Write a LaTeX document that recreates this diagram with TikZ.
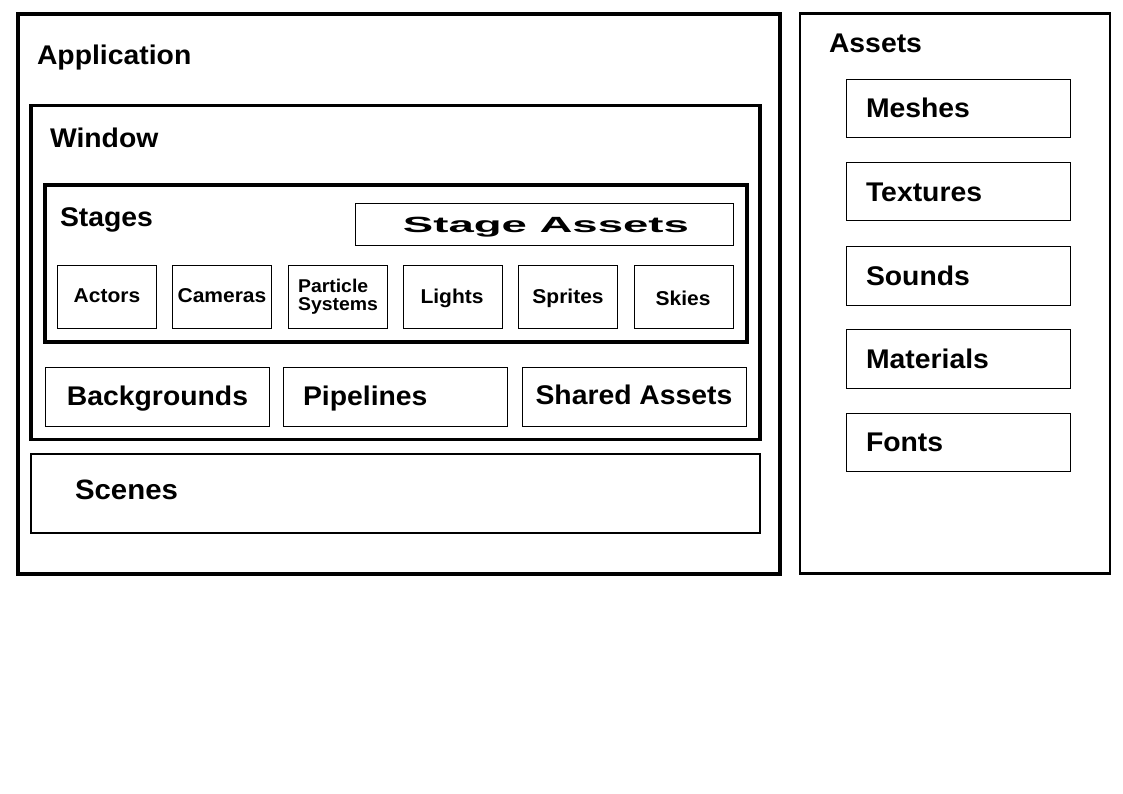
\documentclass[tikz,border=0pt]{standalone}
\usepackage{fontspec}
\setmainfont{Liberation Sans}[FakeStretch=1.05]
\newfontfamily\stagefont{Liberation Sans}[FakeStretch=2.07]
\begin{document}
\begin{tikzpicture}[x=1pt,y=-1pt,
  box/.style={draw=black, line width=1pt, inner sep=0pt, outer sep=0pt, anchor=north west, fill=none},
  lbl/.style={inner sep=0pt, outer sep=0pt, font=\bfseries\fontsize{27}{30}\selectfont},
  small/.style={inner sep=0pt, outer sep=0pt, font=\bfseries\fontsize{20}{22}\selectfont}]
\useasboundingbox[fill=white] (0,0) rectangle (1123,794);
\newcommand{\boxat}[6]{\node[box, #6, minimum width={#4-#2}, minimum height={#5-#3}] (#1) at (#2,#3) {};}
% containers
\boxat{app}{17.5}{14.5}{780}{573.5}{line width=4pt}
\boxat{assets}{800}{13.5}{1110}{573.5}{line width=2.2pt}
\boxat{window}{31}{105.5}{760}{439.5}{line width=3.2pt}
\boxat{stages}{45}{185}{747}{342}{line width=3.2pt}
\boxat{scenes}{31}{454}{760}{533}{line width=2.6pt}
% stage contents
\boxat{stageassets}{355}{204}{733}{245}{}
\boxat{actors}{57}{265}{156}{328}{}
\boxat{cameras}{172}{265}{271}{328}{}
\boxat{particles}{288}{265}{387}{328}{}
\boxat{lights}{403}{265}{502}{328}{}
\boxat{sprites}{518}{265}{617}{328}{}
\boxat{skies}{634}{265}{733}{328}{}
% window contents
\boxat{backgrounds}{45}{367}{269}{426}{}
\boxat{pipelines}{283}{367}{507}{426}{}
\boxat{shared}{522}{367}{746}{426}{}
% assets contents
\boxat{meshes}{846}{80}{1070}{138}{}
\boxat{textures}{846}{163}{1070}{221}{}
\boxat{sounds}{846}{246}{1070}{305}{}
\boxat{materials}{846}{329}{1070}{388}{}
\boxat{fonts}{846}{413}{1070}{471}{}
% labels
\node[lbl, anchor=base west] (tapp) at (37,65) {Application};
\node[lbl, anchor=base west] (twin) at (50,148) {Window};
\node[lbl, anchor=base west] (tstages) at (60,226) {Stages};
\node[lbl, anchor=base west] (tassets) at (829,53) {Assets};
\node[lbl, anchor=base west, font=\bfseries\fontsize{28}{30}\selectfont] (tscenes) at (75,499) {Scenes};
\node[inner sep=0pt, anchor=base, font=\stagefont\bfseries\fontsize{22}{24}\selectfont] (tstageassets) at (546,233) {Stage Assets};
\node[small, anchor=base] (tactors) at (107,302) {Actors};
\node[small, anchor=base] (tcameras) at (222,302) {Cameras};
\node[small, anchor=center, align=left, font=\bfseries\fontsize{18.5}{18}\selectfont] (tparticles) at (338,296.5) {Particle\\Systems};
\node[small, anchor=base] (tlights) at (452,303) {Lights};
\node[small, anchor=base] (tsprites) at (568,303) {Sprites};
\node[small, anchor=base] (tskies) at (683,305) {Skies};
\node[lbl, anchor=base] (tbackgrounds) at (157.5,405) {Backgrounds};
\node[lbl, anchor=base west] (tpipelines) at (303,405) {Pipelines};
\node[lbl, anchor=base] (tshared) at (634,404) {Shared Assets};
\node[lbl, anchor=base west] (tmeshes) at (866,118) {Meshes};
\node[lbl, anchor=base west] (ttextures) at (866,202) {Textures};
\node[lbl, anchor=base west] (tsounds) at (866,285) {Sounds};
\node[lbl, anchor=base west] (tmaterials) at (866,368) {Materials};
\node[lbl, anchor=base west] (tfonts) at (866,451) {Fonts};
\end{tikzpicture}
\end{document}
